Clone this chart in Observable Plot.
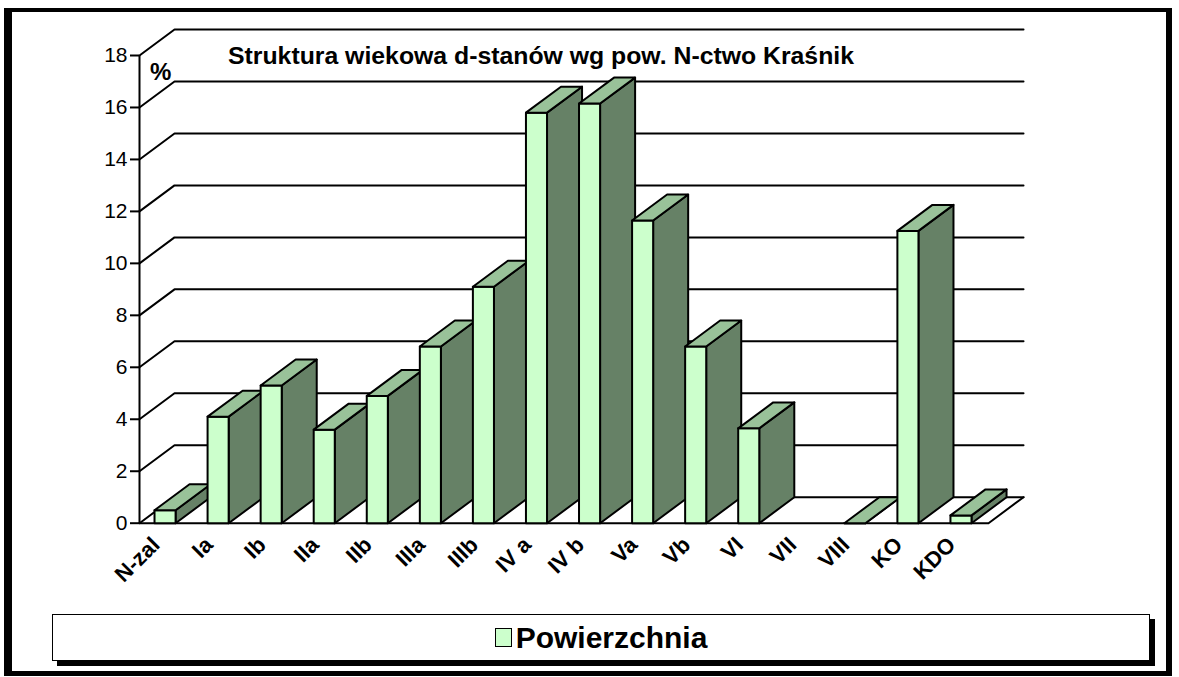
<!DOCTYPE html>
<html><head><meta charset="utf-8">
<script src="https://cdn.jsdelivr.net/npm/d3@7"></script>
<script src="https://cdn.jsdelivr.net/npm/@observablehq/plot@0.6"></script>
<style>
html,body{margin:0;padding:0;background:#fff;}
#wrap{position:relative;width:1179px;height:677px;overflow:hidden;font-family:"Liberation Sans",Arial,sans-serif;color:#000;}
#frame{position:absolute;left:4px;top:8px;width:1168px;height:668px;box-sizing:border-box;border-style:solid;border-color:#000;border-width:4px 6px 5px 8px;}
#chart{position:absolute;left:0;top:0;}
#title{position:absolute;left:228px;top:43px;font-weight:bold;font-size:24.8px;line-height:25px;white-space:nowrap;}
#pct{position:absolute;left:150px;top:60px;font-weight:bold;font-size:24px;line-height:24px;}
#legend{position:absolute;left:52px;top:614px;width:1098px;height:47px;box-sizing:border-box;border:1.5px solid #000;background:#fff;box-shadow:5px 5px 0 #000;display:flex;align-items:center;justify-content:center;}
#legend .sw{display:inline-block;width:15px;height:17px;border:1.5px solid #000;background:#ccffcc;margin-right:4px;}
#legend .lt{font-weight:bold;font-size:30px;line-height:30px;}
</style></head>
<body><div id="wrap"><div id="frame"></div><div id="chart"></div>
<div id="title">Struktura wiekowa d-stanów wg pow. N-ctwo Kraśnik</div>
<div id="pct">%</div>
<div id="legend"><span class="sw"></span><span class="lt">Powierzchnia</span></div>
</div>
<script>
const categories = ["N-zal","Ia","Ib","IIa","IIb","IIIa","IIIb","IV a","IV b","Va","Vb","VI","VII","VIII","KO","KDO"];
const values = [0.5, 4.1, 5.3, 3.6, 4.9, 6.8, 9.1, 15.8, 16.15, 11.65, 6.8, 3.65, null, 0, 11.25, 0.3];
const yTicks = [0, 2, 4, 6, 8, 10, 12, 14, 16, 18];
const seriesName = "Powierzchnia";

const colors = {front: "#ccffcc", top: "#99c299", side: "#668166"};
// 3D depth (in scale units) and bar placement within each category slot
const DX = 0.66, DY = 1.0, A = 0.283, B = 0.68;
const N = categories.length;

const polys = [];
values.forEach((v, i) => {
  if (v == null) return;
  const faces = {
    side: [[i + B, 0], [i + B, v], [i + B + DX, v + DY], [i + B + DX, DY]],
    front: [[i + A, 0], [i + B, 0], [i + B, v], [i + A, v]],
    top: [[i + A, v], [i + B, v], [i + B + DX, v + DY], [i + A + DX, v + DY]]
  };
  for (const f of ["side", "front", "top"]) {
    faces[f].forEach(([x, y]) => polys.push({id: i + "-" + f, face: f, x, y}));
  }
});

const grid = [];
yTicks.forEach(t => {
  grid.push({t, x: 0, y: t}, {t, x: DX, y: t + DY}, {t, x: N + DX, y: t + DY});
});
const floor = [{x: 0, y: 0}, {x: N, y: 0}, {x: N + DX, y: DY}];

const plot = Plot.plot({
  width: 1179,
  height: 677,
  marginLeft: 139,
  marginRight: 191,
  marginTop: 55,
  marginBottom: 154.3,
  style: {fontFamily: "'Liberation Sans', Arial, sans-serif", background: "transparent", color: "#000", overflow: "visible"},
  x: {domain: [0, N], axis: null},
  y: {domain: [0, 18], axis: null},
  color: {domain: ["front", "top", "side"], range: [colors.front, colors.top, colors.side]},
  marks: [
    Plot.line(grid, {x: "x", y: "y", z: "t", stroke: "#000", strokeWidth: 2}),
    Plot.line(floor, {x: "x", y: "y", stroke: "#000", strokeWidth: 2}),
    Plot.ruleX([0], {y1: 0, y2: 18, stroke: "#000", strokeWidth: 2}),
    Plot.axisY({ticks: yTicks, tickSize: 9, tickPadding: 3, fontSize: 21, strokeWidth: 2, stroke: "#000", fill: "#000", label: null}),
    Plot.line(polys, {x: "x", y: "y", z: "id", fill: "face", stroke: "#000", strokeWidth: 2, curve: "linear-closed", strokeLinejoin: "round"}),
    Plot.text(categories, {x: (d, i) => i + 0.5, y: 0, text: d => d, rotate: -45, textAnchor: "end", dx: -10, dy: 18, fontWeight: "bold", fontSize: 22, fill: "#000"})
  ]
});
document.getElementById("chart").appendChild(plot);
</script>
</body></html>
